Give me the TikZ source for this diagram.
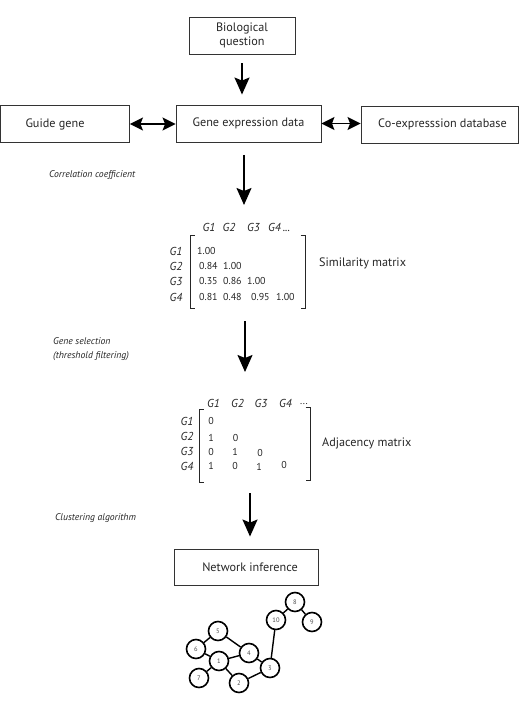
\documentclass[tikz,border=0pt]{standalone}
\usepackage{fontspec}
\setmainfont{PT Sans}
\usetikzlibrary{arrows.meta}
\definecolor{txt}{HTML}{262626}
\begin{document}
\begin{tikzpicture}[x=1pt,y=-1pt,
  box/.style={draw=black!80, line width=0.9pt, minimum height=37pt, inner sep=0pt,
    font=\fontsize{12.2}{13.5}\selectfont, text=txt, align=center},
  flow/.style={line width=1.6pt, -{Stealth[length=17pt,width=15pt,inset=3pt]}},
  dflow/.style={line width=1.6pt, {Stealth[length=13pt,width=13pt,inset=2.5pt]}-{Stealth[length=13pt,width=13pt,inset=2.5pt]}},
  lbl/.style={font=\fontsize{9.7}{11}\selectfont\itshape, text=txt, anchor=west, inner sep=0pt},
  side/.style={font=\fontsize{12.2}{13.5}\selectfont, text=txt, anchor=west, inner sep=0pt},
  hdr/.style={font=\fontsize{11.5}{13}\selectfont\itshape, text=txt, inner sep=0pt},
  val/.style={font=\fontsize{10}{11}\selectfont, text=txt, inner sep=0pt, anchor=west},
  aval/.style={font=\fontsize{10}{11}\selectfont, text=txt, inner sep=0pt},
  brk/.style={line width=1pt, draw=black!85},
  gn/.style={circle, draw, line width=1.6pt, minimum size=19pt, inner sep=0pt,
    font=\fontsize{6.5}{7}\selectfont, text=black!70, fill=white},
  ge/.style={line width=1.4pt}
]
\useasboundingbox (0,0) rectangle (521,714);

% top boxes
\node[box, minimum width=106pt] (bio) at (242,35.5) {Biological\\question};
\node[box, minimum width=129pt] (guide) at (65,124) {Guide gene\hspace{20pt}};
\node[box, minimum width=145pt] (gene) at (248.5,123.5) {Gene expression data};
\node[box, minimum width=157pt] (coexp) at (439.5,124.5) {\hspace{6pt}Co-expresssion database};

\draw[flow, shorten <=9pt, shorten >=10pt] (bio.south) -- (bio.south |- gene.north);
\draw[dflow] (guide.east) -- (gene.west |- guide.east);
\draw[dflow] (gene.east) -- (coexp.west |- gene.east);

% step 1
\node[lbl] (corr) at (49,175) {Correlation coefficient};
\coordinate (a1s) at (244,155);
\coordinate (a1e) at (244,205);
\draw[flow] (a1s) -- (a1e);

% similarity matrix
\node[hdr] (sh1) at (209,227) {G1};
\node[hdr] (sh2) at (229,227) {G2};
\node[hdr] (sh3) at (253.5,227) {G3};
\node[hdr, anchor=west] (sh4) at (268,227) {G4\,...};
\node[hdr] (sr1) at (176,251) {G1};
\node[hdr] (sr2) at (176,266) {G2};
\node[hdr] (sr3) at (176,281) {G3};
\node[hdr] (sr4) at (176,297) {G4};
\node[val] (s11) at (197,251) {1.00};
\node[val] (s21) at (199,266) {0.84};
\node[val] (s22) at (223,266) {1.00};
\node[val] (s31) at (199,281) {0.35};
\node[val] (s32) at (223,281) {0.86};
\node[val] (s33) at (247,281) {1.00};
\node[val] (s41) at (199,297) {0.81};
\node[val] (s42) at (223,297) {0.48};
\node[val] (s43) at (251,297) {0.95};
\node[val] (s44) at (276,297) {1.00};
\draw[brk] (194.5,235) -- (190,235) -- (190,308) -- (194.5,308);
\draw[brk] (300.5,235) -- (305,235) -- (305,308) -- (300.5,308);
\node[side] (simlab) at (319,263) {Similarity matrix};

% step 2
\node[lbl] (gsel) at (53,341) {Gene selection};
\node[lbl] (thr) at (53,356) {(threshold filtering)};
\coordinate (a2s) at (245,321);
\coordinate (a2e) at (245,372);
\draw[flow] (a2s) -- (a2e);

% adjacency matrix
\node[hdr] (ah1) at (213.5,403) {G1};
\node[hdr] (ah2) at (237.5,403) {G2};
\node[hdr] (ah3) at (261,403) {G3};
\node[hdr] (ah4) at (285.5,403) {G4};
\node[aval] (ahd) at (304,404) {...};
\node[hdr] (ar1) at (187,421) {G1};
\node[hdr] (ar2) at (187,436) {G2};
\node[hdr] (ar3) at (187,451) {G3};
\node[hdr] (ar4) at (187,466) {G4};
\node[aval] (a11) at (211,421) {0};
\node[aval] (a21) at (211,438) {1};
\node[aval] (a22) at (235.5,438) {0};
\node[aval] (a31) at (211,452) {0};
\node[aval] (a32) at (235,452) {1};
\node[aval] (a33) at (260,453) {0};
\node[aval] (a41) at (211,466) {1};
\node[aval] (a42) at (235,466) {0};
\node[aval] (a43) at (259,467) {1};
\node[aval] (a44) at (284,465) {0};
\draw[brk] (203.5,409) -- (199,409) -- (199,482) -- (203.5,482);
\draw[brk] (305.5,407) -- (310,407) -- (310,480) -- (305.5,480);
\node[side] (adjlab) at (322,443) {Adjacency matrix};

% step 3
\node[lbl] (clus) at (55,518) {Clustering algorithm};
\node[box, minimum width=144pt, minimum height=36pt] (net) at (246,567) {\hspace{8pt}Network inference};
\coordinate (a3s) at (250,493);
\draw[flow, shorten >=12pt] (a3s) -- (a3s |- net.north);

% network graph
\node[gn] (n8) at (295,602) {8};
\node[gn] (n10) at (276,620) {10};
\node[gn] (n9) at (312,622) {9};
\node[gn] (n5) at (218,631) {5};
\node[gn] (n6) at (196,649) {6};
\node[gn] (n4) at (249,653) {4};
\node[gn] (n1) at (219,661) {1};
\node[gn] (n3) at (270,668) {3};
\node[gn] (n7) at (199,678) {7};
\node[gn] (n2) at (239,683) {2};
\draw[ge] (n8) -- (n10);
\draw[ge] (n8) -- (n9);
\draw[ge] (n10) -- (n3);
\draw[ge] (n5) -- (n6);
\draw[ge] (n5) -- (n4);
\draw[ge] (n6) -- (n1);
\draw[ge] (n1) -- (n4);
\draw[ge] (n1) -- (n7);
\draw[ge] (n1) -- (n2);
\draw[ge] (n2) -- (n3);
\draw[ge] (n4) -- (n3);
\end{tikzpicture}
\end{document}
